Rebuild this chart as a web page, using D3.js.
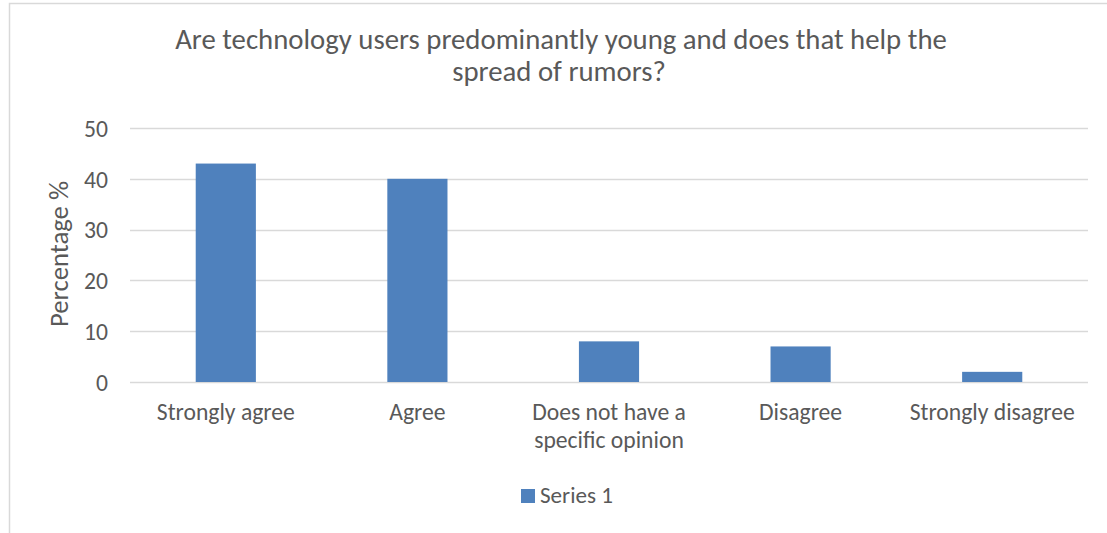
<!DOCTYPE html>
<html><head><meta charset="utf-8">
<script src="https://cdn.jsdelivr.net/npm/d3@7"></script>
<style>body{margin:0;background:#fff}svg{display:block}</style>
</head><body>
<script>
const categories = ["Strongly agree", "Agree", "Does not have a specific opinion", "Disagree", "Strongly disagree"];
const categoryLines = [["Strongly agree"], ["Agree"], ["Does not have a", "specific opinion"], ["Disagree"], ["Strongly disagree"]];
const values = [43, 40, 8, 7, 2];
const yTicks = [0, 10, 20, 30, 40, 50];
const titleLines = ["Are technology users predominantly young and does that help the", "spread of rumors?"];
const seriesName = "Series 1";
const yTitle = "Percentage %";

const W = 1107, H = 533;
const font = "Carlito, Lato, 'Open Sans', sans-serif";
const textColor = "#595959";
const barColor = "#4F81BD";

const svg = d3.select("body").append("svg").attr("width", W).attr("height", H);
svg.append("rect").attr("x", 9.5).attr("y", 3.5).attr("width", W + 10).attr("height", H + 10)
  .attr("fill", "#fff").attr("stroke", "#d9d9d9").attr("stroke-width", 1.5);

// measure helper: font size so that a text reaches a given width
function fitSize(text, targetWidth, base) {
  const t = svg.append("text").attr("font-family", font).attr("font-size", base).text(text);
  const w = t.node().getComputedTextLength();
  t.remove();
  return base * targetWidth / w;
}
const labelSize = fitSize("Strongly agree", 138, 20);
const titleSize = fitSize(titleLines[0], 772, 24);
const yTitleSize = fitSize(yTitle, 146, 20);
const legendSize = fitSize(seriesName, 73, 20);

const plot = {left: 130, right: 1088, top: 128, bottom: 382};
const x = d3.scaleBand().domain(categories).range([plot.left, plot.right]).paddingInner(0.686).paddingOuter(0.343);
const y = d3.scaleLinear().domain([0, 50]).range([plot.bottom, plot.top]);

// gridlines
svg.append("g").selectAll("line").data(yTicks).join("line")
  .attr("x1", plot.left).attr("x2", plot.right)
  .attr("y1", d => Math.round(y(d)) + 0.5).attr("y2", d => Math.round(y(d)) + 0.5)
  .attr("stroke", "#d9d9d9").attr("stroke-width", 1.3);

// y axis labels
const yAxis = d3.axisLeft(y).tickValues(yTicks).tickSize(0).tickPadding(0);
const gy = svg.append("g").attr("transform", `translate(108,0)`).call(yAxis);
gy.select(".domain").remove();
gy.selectAll("text").attr("font-family", font).attr("font-size", labelSize).attr("fill", textColor).attr("dy", "0.35em");

// bars
svg.append("g").selectAll("rect").data(values).join("rect")
  .attr("x", (d, i) => x(categories[i]))
  .attr("width", x.bandwidth())
  .attr("y", d => y(d))
  .attr("height", d => y(0) - y(d))
  .attr("fill", barColor);

// x axis
const xAxis = d3.axisBottom(x).tickSize(0).tickFormat("");
const gx = svg.append("g").attr("transform", `translate(0,${plot.bottom})`).call(xAxis);
gx.select(".domain").remove();
const labels = svg.append("g").selectAll("text").data(categories).join("text")
  .attr("x", d => x(d) + x.bandwidth() / 2)
  .attr("y", 420)
  .attr("text-anchor", "middle")
  .attr("font-family", font).attr("font-size", labelSize).attr("fill", textColor);
labels.each(function(d, i) {
  d3.select(this).selectAll("tspan").data(categoryLines[i]).join("tspan")
    .attr("x", x(d) + x.bandwidth() / 2)
    .attr("dy", (t, j) => j === 0 ? 0 : 28)
    .text(t => t);
});

// y title
svg.append("text").attr("transform", "translate(68,254) rotate(-90)")
  .attr("text-anchor", "middle").attr("font-family", font).attr("font-size", yTitleSize).attr("fill", textColor)
  .text(yTitle);

// title
svg.append("g").selectAll("text").data(titleLines).join("text")
  .attr("x", (d, i) => i === 0 ? 561 : 559)
  .attr("y", (d, i) => 49 + i * 32)
  .attr("text-anchor", "middle")
  .attr("font-family", font).attr("font-size", titleSize).attr("fill", textColor)
  .text(d => d);

// legend
const lg = svg.append("g");
lg.append("rect").attr("x", 521).attr("y", 489).attr("width", 14).attr("height", 14).attr("fill", barColor);
lg.append("text").attr("x", 540).attr("y", 502.5).attr("font-family", font).attr("font-size", legendSize).attr("fill", textColor).text(seriesName);
</script>
</body></html>
